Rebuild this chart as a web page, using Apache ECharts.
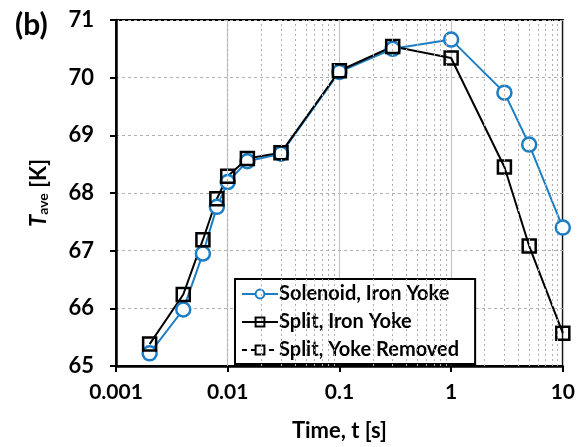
<!DOCTYPE html>
<html>
<head>
<meta charset="utf-8">
<script src="https://cdn.jsdelivr.net/npm/echarts@6/dist/echarts.min.js"></script>
<style>
  html, body { margin: 0; padding: 0; background: #fff; }
  #chart { width: 578px; height: 447px; }
</style>
</head>
<body>
<div id="chart"></div>
<script>
// time points [s]
const times = [0.002, 0.004, 0.006, 0.008, 0.01, 0.015, 0.03, 0.1, 0.3, 1, 3, 5, 10];
// average temperature [K]
const solenoidIron = [65.22, 65.98, 66.95, 67.76, 68.19, 68.55, 68.68, 70.1, 70.5, 70.66, 69.74, 68.84, 67.4];
const splitIron = [65.38, 66.24, 67.19, 67.9, 68.29, 68.6, 68.7, 70.12, 70.54, 70.34, 68.45, 67.08, 65.57];
const splitRemoved = [];
// minor vertical grid lines
const minorTicks = [0.002, 0.003, 0.004, 0.005, 0.006, 0.007, 0.008, 0.009,
  0.02, 0.03, 0.04, 0.05, 0.06, 0.07, 0.08, 0.09,
  0.2, 0.3, 0.4, 0.5, 0.6, 0.7, 0.8, 0.9,
  2, 3, 4, 5, 6, 7, 8, 9];

const font = 'Lato';
const pair = (ys) => times.map((t, i) => [t, ys[i]]);

let myChart = echarts.init(document.getElementById('chart'));
myChart.setOption({
    animation: false,
    textStyle: { fontFamily: font },
    title: {
        text: '(b)',
        left: 10,
        top: 5,
        textStyle: { fontFamily: font, fontSize: 30, fontWeight: 'bold', color: '#000' }
    },
    grid: {
        left: 116, top: 20, right: 14, bottom: 79,
        show: true, borderColor: '#000', borderWidth: 2
    },
    legend: {
        orient: 'vertical',
        left: 235,
        top: 279,
        padding: [5, 16, 4, 6],
        itemGap: 8,
        itemWidth: 36,
        itemHeight: 11,
        backgroundColor: '#fff',
        borderColor: '#000',
        borderWidth: 2,
        borderRadius: 0,
        textStyle: { fontFamily: font, fontSize: 20, fontWeight: 'bold', color: '#000', padding: [0, 0, 0, -4] },
        data: ['Solenoid, Iron Yoke', 'Split, Iron Yoke', 'Split, Yoke Removed']
    },
    xAxis: {
        type: 'log',
        logBase: 10,
        min: 0.001,
        max: 10,
        name: 'Time, t [s]',
        nameLocation: 'middle',
        nameGap: 54,
        nameTextStyle: { fontFamily: font, fontSize: 22, fontWeight: 'bold', color: '#000' },
        axisLine: { lineStyle: { color: '#000', width: 2.5 } },
        axisTick: { show: true, inside: false, length: 6, lineStyle: { color: '#000', width: 2 } },
        axisLabel: {
            fontFamily: font, fontSize: 21, fontWeight: 'bold', color: '#000', margin: 16,
            formatter: (v) => String(v)
        },
        splitLine: { show: true, lineStyle: { color: '#c4c4c4', width: 1.2 } }
    },
    yAxis: {
        type: 'value',
        min: 65,
        max: 71,
        interval: 1,
        name: '{it|T}{sub|ave} [K]',
        nameLocation: 'middle',
        nameGap: 66,
        nameRotate: 90,
        nameTextStyle: {
            fontFamily: font, fontSize: 22, fontWeight: 'bold', color: '#000',
            rich: {
                it: { fontFamily: font, fontSize: 22, fontWeight: 'bold', fontStyle: 'italic', color: '#000' },
                sub: { fontFamily: font, fontSize: 14, fontWeight: 'bold', color: '#000', verticalAlign: 'bottom', padding: [9, 0, 0, 0] }
            }
        },
        axisLine: { show: true, lineStyle: { color: '#000', width: 2.5 } },
        axisTick: { show: true, inside: false, length: 6, lineStyle: { color: '#000', width: 2 } },
        axisLabel: { fontFamily: font, fontSize: 22, fontWeight: 'bold', color: '#000', margin: 22 },
        splitLine: { show: true, lineStyle: { color: '#b0b0b0', type: [3, 3], width: 1 } }
    },
    series: [
        {
            name: 'Split, Yoke Removed',
            type: 'line',
            z: 1,
            data: splitRemoved,
            symbol: 'rect',
            symbolSize: 12,
            itemStyle: { color: '#fff', borderColor: '#000', borderWidth: 2 },
            lineStyle: { color: '#000', width: 2, type: [5, 4] },
            markLine: {
                silent: true,
                symbol: 'none',
                label: { show: false },
                lineStyle: { color: '#b0b0b0', type: [2, 3], width: 1 },
                data: minorTicks.map((v) => ({ xAxis: v }))
            }
        },
        {
            name: 'Solenoid, Iron Yoke',
            type: 'line',
            data: pair(solenoidIron),
            symbol: 'circle',
            symbolSize: 14,
            itemStyle: { color: '#fff', borderColor: '#1b7dc4', borderWidth: 2.5 },
            lineStyle: { color: '#1b7dc4', width: 2 }
        },
        {
            name: 'Split, Iron Yoke',
            type: 'line',
            data: pair(splitIron),
            symbol: 'rect',
            symbolSize: 13,
            itemStyle: { color: 'rgba(255,255,255,0)', borderColor: '#000', borderWidth: 2.5 },
            lineStyle: { color: '#000', width: 2 }
        }
    ]
});
</script>
</body>
</html>
